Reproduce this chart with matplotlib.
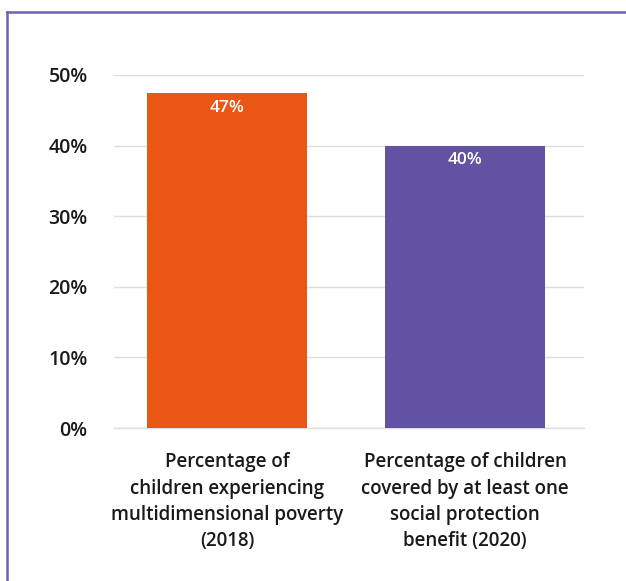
import matplotlib.pyplot as plt
from matplotlib.lines import Line2D

categories = ['Percentage of\nchildren experiencing\nmultidimensional poverty\n(2018)',
              'Percentage of children\ncovered by at least one\nsocial protection\nbenefit (2020)']
values = [47.4, 40.0]
bar_colors = ['#EA5613', '#6252A2']
yticks = [0, 10, 20, 30, 40, 50]

plt.rcParams['font.family'] = ['Open Sans', 'DejaVu Sans']

W, H = 626, 581
fig = plt.figure(figsize=(W / 100, H / 100), dpi=100)
ax = fig.add_axes([114 / W, 1 - 428 / H, (584 - 114) / W, (428 - 75) / H])

x = range(len(values))
ax.bar(x, values, width=0.672, color=bar_colors, zorder=2)
for xi, v in zip(x, values):
    ax.text(xi, v - 2.1, f'{round(v)}%', ha='center', va='center', color='white',
            fontsize=12.5, fontweight='semibold')

ax.set_ylim(0, 50)
ax.set_xlim(-0.475, 1.5)
ax.set_yticks(yticks)
ax.set_yticklabels([f'{t}%' for t in yticks], fontsize=14, fontweight='semibold', color='#1a1a1a')
ax.tick_params(axis='y', length=0, pad=19)
ax.set_xticks(list(x))
ax.set_xticklabels(categories, fontsize=13.5, fontweight='semibold', color='#1a1a1a',
                   linespacing=1.42)
ax.tick_params(axis='x', length=0, pad=17.5)
ax.grid(axis='y', color='#dedede', linewidth=1, zorder=0)
ax.axhline(0, color='#dedede', linewidth=1, zorder=1, clip_on=False)
for s in ax.spines.values():
    s.set_visible(False)

# purple frame at top and left
border = '#6E61B0'
fig.add_artist(Line2D([7 / W, 1], [1 - 12 / H, 1 - 12 / H], color=border, lw=1.8))
fig.add_artist(Line2D([7 / W, 7 / W], [0, 1 - 12 / H], color=border, lw=1.8))

fig.savefig('out.png', dpi=100)
